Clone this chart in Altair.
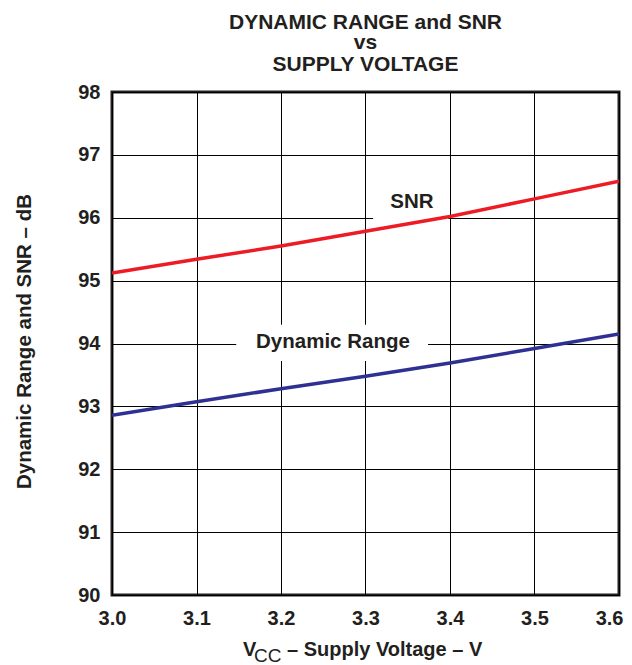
import altair as alt
import pandas as pd

voltage = [3.0, 3.1, 3.2, 3.3, 3.4, 3.5, 3.6]
snr = [95.12, 95.34, 95.55, 95.785, 96.02, 96.30, 96.58]
dyn_range = [92.86, 93.075, 93.28, 93.48, 93.69, 93.92, 94.15]

x_ticks = [3.0, 3.1, 3.2, 3.3, 3.4, 3.5, 3.6]
y_ticks = [90, 91, 92, 93, 94, 95, 96, 97, 98]
title_lines = ["DYNAMIC RANGE and SNR", "vs", "SUPPLY VOLTAGE"]

FONT = "Liberation Sans"
INK = "#231f20"

df = pd.DataFrame({
    "v": voltage * 2,
    "db": snr + dyn_range,
    "series": ["SNR"] * len(voltage) + ["Dynamic Range"] * len(voltage),
})

xs = alt.Scale(domain=[3.0, 3.6], nice=False, zero=False)
ys = alt.Scale(domain=[90, 98], nice=False, zero=False)

xax = alt.Axis(values=x_ticks, format=".1f", grid=True, gridColor="black", gridWidth=1, gridOpacity=1,
               domain=False, ticks=False, labelFont=FONT, labelFontSize=20, labelFontWeight="bold",
               labelColor=INK, labelPadding=13, title=None, labelFlush=False, labelBound=False,
               labelAlign=alt.condition("datum.value > 3.55", alt.value("right"), alt.value("center")),
               labelOffset=alt.condition("datum.value > 3.55", alt.value(4), alt.value(0)))
yax = alt.Axis(values=y_ticks, format="d", grid=True, gridColor="black", gridWidth=1, gridOpacity=1,
               domain=False, ticks=False, labelFont=FONT, labelFontSize=20, labelFontWeight="bold",
               labelColor=INK, labelPadding=12, title="Dynamic Range and SNR – dB",
               titleFont=FONT, titleFontSize=20.5, titleFontWeight="bold", titleColor=INK,
               titleX=-82, titleY=249, titleAngle=270, titleAlign="center", titleBaseline="alphabetic")

base = alt.Chart(df)

lines = base.mark_line(strokeWidth=3.5, clip=True).encode(
    x=alt.X("v:Q", scale=xs, axis=xax),
    y=alt.Y("db:Q", scale=ys, axis=yax),
    color=alt.Color("series:N", scale=alt.Scale(domain=["SNR", "Dynamic Range"],
                                               range=["#ed1c24", "#2e3192"]), legend=None),
)

boxes = alt.Chart(pd.DataFrame({
    "x1": [3.309, 3.147], "x2": [3.398, 3.374],
    "y1": [96.55, 93.72], "y2": [95.96, 94.30],
})).mark_rect(color="white").encode(
    x=alt.X("x1:Q", scale=xs), x2="x2:Q", y=alt.Y("y1:Q", scale=ys), y2="y2:Q"
)

labels = alt.Chart(pd.DataFrame({
    "x": [3.355, 3.2615], "y": [96.255, 94.02], "t": ["SNR", "Dynamic Range"],
})).mark_text(font=FONT, fontSize=20.5, fontWeight="bold", color=INK, baseline="middle").encode(
    x=alt.X("x:Q", scale=xs), y=alt.Y("y:Q", scale=ys), text="t:N"
)

def txt(s, x, y, size, weight="bold", align="left"):
    return alt.Chart(pd.DataFrame({"t": [s]})).mark_text(
        font=FONT, fontSize=size, fontWeight=weight, color=INK, align=align, baseline="alphabetic"
    ).encode(x=alt.value(x), y=alt.value(y), text="t:N")

title_y = [-63, -43, -21]
title_marks = [txt(s, 253.5, yy, 21, align="center") for s, yy in zip(title_lines, title_y)]

xt_v = txt("V", 131, 564, 20)
xt_cc = txt("CC", 142, 570, 19, weight="normal")
xt_rest = txt("– Supply Voltage – V", 175, 564, 20)

chart = alt.layer(boxes, lines, labels, xt_v, xt_cc, xt_rest, *title_marks).properties(
    width=507, height=503,
    padding={"left": 104, "top": 84, "right": 5, "bottom": 68},
    autosize=alt.AutoSizeParams(type="none"),
).configure_view(stroke=INK, strokeWidth=3)

chart.save("out.html", embed_options={"renderer": "svg", "actions": False})
